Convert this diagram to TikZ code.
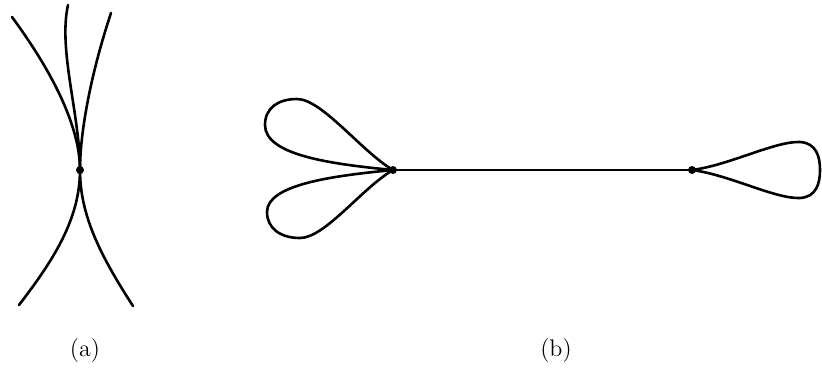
\documentclass[tikz,border=0pt]{standalone}
\begin{document}
\begin{tikzpicture}[x=0.5pt,y=-0.5pt,
  curve/.style={line width=1.3pt,line cap=round},
  vdot/.style={circle,fill=black,inner sep=0pt,minimum size=4pt},
  lab/.style={font=\large}]
\useasboundingbox (0,0) rectangle (822,371);
% (a)
\node[vdot] (c) at (80,170) {};
\coordinate (tl) at (12,17);
\coordinate (tm) at (68,5);
\coordinate (tr) at (111,13);
\coordinate (bl) at (19,305);
\coordinate (br) at (133,306);
\draw[curve] (tl) .. controls (62,85) and (80,135) .. (c.center) .. controls (80,215) and (100,255) .. (br);
\draw[curve] (tr) .. controls (92,70) and (80,130) .. (c.center) .. controls (80,220) and (52,262) .. (bl);
\draw[curve] (tm) .. controls (58,50) and (80,115) .. (c.center);
% (b)
\node[vdot] (L) at (393,170) {};
\node[vdot] (R) at (692,170) {};
\draw[curve] (L.center) -- (R.center);
\draw[curve] (L.center) .. controls (330,164) and (265,155) .. (265,125)
  .. controls (265,108) and (278,99) .. (297,99)
  .. controls (322,99) and (362,152) .. (L.center);
\draw[curve] (L.center) .. controls (330,176) and (267,185) .. (267,212)
  .. controls (267,228) and (280,238) .. (300,238)
  .. controls (325,238) and (362,188) .. (L.center);
\draw[curve] (R.center) .. controls (730,165) and (775,141) .. (800,142) .. controls (816,143) and (820,156) .. (820,170) .. controls (820,184) and (816,197) .. (800,198) .. controls (775,199) and (730,175) .. (R.center);
% labels
\node[lab] (la) at (85,350) {(a)};
\node[lab] (lb) at (556,350) {(b)};
\end{tikzpicture}
\end{document}
